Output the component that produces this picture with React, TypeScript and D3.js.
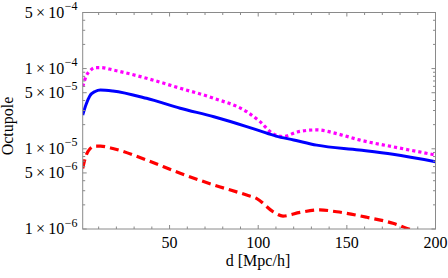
import { line, scaleLinear, scaleLog, curveMonotoneX } from "d3";

// distance d [Mpc/h] and octupole amplitudes
const blueD = [1, 3, 5, 8, 11, 18, 37, 56, 75, 93.5, 101, 110, 120, 133, 157, 176, 200];
const blueV = [2.64e-5, 3.62e-5, 4.55e-5, 5.18e-5, 5.41e-5, 5.26e-5, 4.26e-5, 3.2e-5, 2.51e-5, 1.89e-5, 1.67e-5, 1.44e-5, 1.29e-5, 1.11e-5, 9.66e-6, 8.54e-6, 6.91e-6];

const magentaD = [1, 3, 5, 8, 11, 18, 37, 56, 75, 93.5, 101, 108, 114, 122, 133, 145, 157, 176, 200];
const magentaV = [5.95e-5, 8.09e-5, 9.33e-5, 1.03e-4, 1.03e-4, 9.61e-5, 7.57e-5, 5.68e-5, 4.26e-5, 2.9e-5, 2.18e-5, 1.56e-5, 1.42e-5, 1.62e-5, 1.72e-5, 1.53e-5, 1.29e-5, 1.06e-5, 8.37e-6];

const redD = [1, 3, 5, 8, 11, 18, 37, 56, 75, 93.5, 99, 108.5, 114, 123.6, 134.8, 144.3, 161.2, 176, 186.6, 200];
const redV = [5.71e-6, 8.37e-6, 9.94e-6, 1.08e-5, 1.08e-5, 1.01e-5, 7.25e-6, 4.95e-6, 3.54e-6, 2.65e-6, 2.41e-6, 1.64e-6, 1.45e-6, 1.61e-6, 1.73e-6, 1.64e-6, 1.4e-6, 1.18e-6, 0.97e-6, 0.8e-6];

const xTicks = [50, 100, 150, 200];
const xMinorTicks = [10, 20, 30, 40, 60, 70, 80, 90, 110, 120, 130, 140, 160, 170, 180, 190];
const yTicks = [1e-6, 5e-6, 1e-5, 5e-5, 1e-4, 5e-4];
const yTickLabels = [["1", "−6"], ["5", "−6"], ["1", "−5"], ["5", "−5"], ["1", "−4"], ["5", "−4"]];
const yMinorMultipliers = [2, 3, 4, 6, 7, 8, 9];

const W = 448;
const H = 278;
const FRAME = { left: 82.7, right: 435.5, top: 12.5, bottom: 229 };
const FONT = "'Liberation Serif', 'DejaVu Serif', serif";
const FRAME_COLOR = "#8a8a8a";

type Pt = { d: number; v: number };

const zipSeries = (ds: number[], vs: number[]): Pt[] => ds.map((d, i) => ({ d, v: vs[i] }));

export default function App() {
  const x = scaleLinear().domain([1, 200]).range([FRAME.left, FRAME.right]);
  const y = scaleLog().domain([1e-6, 5e-4]).range([FRAME.bottom, FRAME.top]);

  const gen = line<Pt>()
    .x((p) => x(p.d))
    .y((p) => y(p.v))
    .curve(curveMonotoneX);

  const yMinor: number[] = [];
  for (const decade of [1e-6, 1e-5, 1e-4]) {
    for (const m of yMinorMultipliers) {
      const v = decade * m;
      if (v < 5e-4) yMinor.push(v);
    }
  }

  const series = [
    { key: "red", pts: zipSeries(redD, redV), color: "#ff0000", dash: "9,5", width: 3.2 },
    { key: "magenta", pts: zipSeries(magentaD, magentaV), color: "#ff00ff", dash: "3.2,3", width: 3.2 },
    { key: "blue", pts: zipSeries(blueD, blueV), color: "#0000ff", dash: undefined, width: 3 },
  ];

  return (
    <svg
      width={W}
      height={H}
      style={{ position: "absolute", left: 0, top: 0, background: "#fff" }}
      fontFamily={FONT}
    >
      <defs>
        <clipPath id="plot-clip">
          <rect
            x={FRAME.left}
            y={FRAME.top}
            width={FRAME.right - FRAME.left}
            height={FRAME.bottom - FRAME.top}
          />
        </clipPath>
      </defs>

      <g clipPath="url(#plot-clip)">
        {series.map((s) => (
          <path
            key={s.key}
            d={gen(s.pts) ?? ""}
            fill="none"
            stroke={s.color}
            strokeWidth={s.width}
            strokeDasharray={s.dash}
            strokeLinejoin="round"
          />
        ))}
      </g>

      {/* frame */}
      <rect
        x={FRAME.left}
        y={FRAME.top}
        width={FRAME.right - FRAME.left}
        height={FRAME.bottom - FRAME.top}
        fill="none"
        stroke={FRAME_COLOR}
        strokeWidth={1}
      />

      {/* x ticks, bottom and top */}
      {xTicks.map((t) => (
        <g key={`xt${t}`} stroke={FRAME_COLOR}>
          <line x1={x(t)} x2={x(t)} y1={FRAME.bottom} y2={FRAME.bottom - 4} />
          <line x1={x(t)} x2={x(t)} y1={FRAME.top} y2={FRAME.top + 4} />
        </g>
      ))}
      {xMinorTicks.map((t) => (
        <g key={`xm${t}`} stroke={FRAME_COLOR}>
          <line x1={x(t)} x2={x(t)} y1={FRAME.bottom} y2={FRAME.bottom - 2.5} />
          <line x1={x(t)} x2={x(t)} y1={FRAME.top} y2={FRAME.top + 2.5} />
        </g>
      ))}
      {xTicks.map((t) => (
        <text key={`xl${t}`} x={x(t)} y={248.3} textAnchor="middle" fontSize={16} fill="#000">
          {t}
        </text>
      ))}

      {/* y ticks, left and right */}
      {yTicks.map((t) => (
        <g key={`yt${t}`} stroke={FRAME_COLOR}>
          <line x1={FRAME.left} x2={FRAME.left + 4} y1={y(t)} y2={y(t)} />
          <line x1={FRAME.right} x2={FRAME.right - 4} y1={y(t)} y2={y(t)} />
        </g>
      ))}
      {yMinor.map((t) => (
        <g key={`ym${t}`} stroke={FRAME_COLOR}>
          <line x1={FRAME.left} x2={FRAME.left + 2.5} y1={y(t)} y2={y(t)} />
          <line x1={FRAME.right} x2={FRAME.right - 2.5} y1={y(t)} y2={y(t)} />
        </g>
      ))}
      {yTicks.map((t, i) => (
        <text key={`yl${t}`} x={77.5} y={y(t) + 5} textAnchor="end" fontSize={16} fill="#000">
          {yTickLabels[i][0]}{"\u2009×\u200910"}
          <tspan dx={0.5} dy={-7.5} fontSize={12}>
            {yTickLabels[i][1]}
          </tspan>
        </text>
      ))}

      {/* axis titles */}
      <text x={258} y={266} textAnchor="middle" fontSize={16} fill="#000">
        d [Mpc/h]
      </text>
      <text
        transform="translate(12.5,126) rotate(-90)"
        textAnchor="middle"
        fontSize={16}
        fill="#000"
      >
        Octupole
      </text>
    </svg>
  );
}
